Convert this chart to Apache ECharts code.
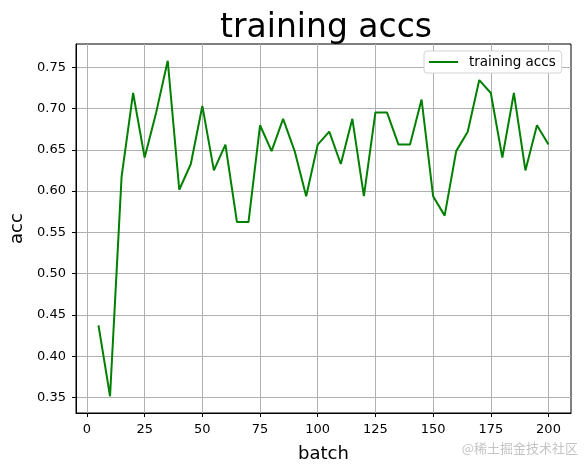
<!DOCTYPE html>
<html>
<head>
<meta charset="utf-8">
<script src="https://cdn.jsdelivr.net/npm/echarts@6/dist/echarts.min.js"></script>
<style>html,body{margin:0;padding:0;background:#fff}#c{width:584px;height:472px}</style>
</head>
<body>
<div id="c"></div>
<script>
const batches = [5,10,15,20,25,30,35,40,45,50,55,60,65,70,75,80,85,90,95,100,
                 105,110,115,120,125,130,135,140,145,150,155,160,165,170,175,180,185,190,195,200];
const trainingAccs = [0.4375,0.3516,0.6172,0.7188,0.6406,0.6953,0.7578,0.6016,0.6328,0.7031,
                      0.6250,0.6563,0.5625,0.5625,0.6797,0.6484,0.6875,0.6484,0.5938,0.6563,
                      0.6719,0.6328,0.6875,0.5938,0.6953,0.6953,0.6563,0.6563,0.7109,0.5938,
                      0.5703,0.6484,0.6719,0.7344,0.7188,0.6406,0.7188,0.6250,0.6797,0.6563];
const xTicks = [0,25,50,75,100,125,150,175,200];
const yTicks = [0.35,0.40,0.45,0.50,0.55,0.60,0.65,0.70,0.75];
const titleText = 'training accs';
const seriesName = 'training accs';
const xName = 'batch';
const yName = 'acc';
const watermark = '@稀土掘金技术社区';

const FONT = 'DejaVu Sans';
const chart = echarts.init(document.getElementById('c'), null, {renderer: 'canvas'});
chart.setOption({
  animation: false,
  backgroundColor: '#fff',
  title: {
    text: titleText, left: 215, top: 7,
    textStyle: {fontFamily: FONT, fontSize: 33, fontWeight: 'normal', color: '#000'}
  },
  legend: {
    left: 424, top: 51, padding: [4, 6, 4, 5],
    borderColor: '#d4d4d4', borderWidth: 1, borderRadius: 3, backgroundColor: '#fff',
    icon: 'rect', itemWidth: 29, itemHeight: 2,
    textStyle: {fontFamily: FONT, fontSize: 13.5, color: '#000', padding: [0, 0, 0, 6]},
    data: [seriesName]
  },
  grid: {left: 76, top: 44, width: 495, height: 369, show: true, borderColor: '#000', borderWidth: 1, backgroundColor: 'transparent'},
  xAxis: {
    type: 'value', min: -4.75, max: 209.75,
    name: xName, nameLocation: 'middle', nameGap: 32,
    nameTextStyle: {fontFamily: FONT, fontSize: 18, color: '#000'},
    axisLine: {show: true, onZero: false, lineStyle: {color: '#000', width: 1}},
    axisTick: {show: true, customValues: xTicks, length: 4, lineStyle: {color: '#000', width: 1}},
    axisLabel: {customValues: xTicks, fontFamily: FONT, fontSize: 13, color: '#000', margin: 10},
    splitLine: {show: true, lineStyle: {color: '#b0b0b0', width: 1}}
  },
  yAxis: {
    type: 'value', min: 0.3313, max: 0.7781,
    name: yName, nameLocation: 'middle', nameGap: 46,
    nameTextStyle: {fontFamily: FONT, fontSize: 18, color: '#000'},
    axisLine: {show: true, onZero: false, lineStyle: {color: '#000', width: 1}},
    axisTick: {show: true, customValues: yTicks, length: 4, lineStyle: {color: '#000', width: 1}},
    axisLabel: {customValues: yTicks, fontFamily: FONT, fontSize: 13, color: '#000', margin: 10,
      formatter: v => v.toFixed(2)},
    splitLine: {show: true, lineStyle: {color: '#b0b0b0', width: 1}}
  },
  graphic: [{
    type: 'text', right: 6, top: 442,
    style: {text: watermark, font: '13px "Noto Sans CJK SC"', fill: '#c4c4c4'}
  }],
  series: [{
    name: seriesName, type: 'line', showSymbol: false, symbol: 'none',
    data: batches.map((b, i) => [b, trainingAccs[i]]),
    lineStyle: {color: '#008000', width: 2},
    itemStyle: {color: '#008000'},
    z: 5
  }]
});
</script>
</body>
</html>
